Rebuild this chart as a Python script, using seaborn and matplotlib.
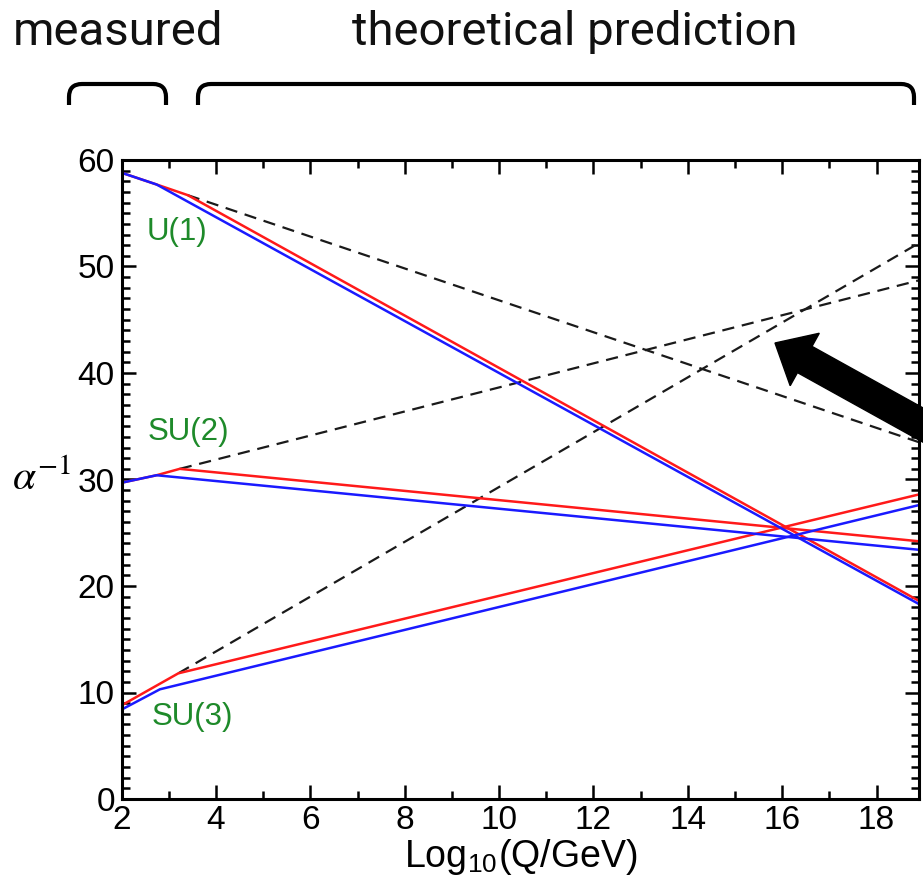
import numpy as np
import pandas as pd
import seaborn as sns
import matplotlib
matplotlib.use("Agg")
import matplotlib.pyplot as plt
from matplotlib.patches import FancyArrow, PathPatch
from matplotlib.path import Path
from matplotlib.ticker import MultipleLocator

# ---------------- data ----------------
# Standard Model running (blue)
u1_sm_x = [2.0, 2.74, 18.9]
u1_sm_y = [58.8, 57.7, 18.3]
su2_sm_x = [2.0, 2.74, 18.9]
su2_sm_y = [29.7, 30.4, 23.4]
su3_sm_x = [2.0, 2.81, 18.9]
su3_sm_y = [8.4, 10.3, 27.6]

# SUSY running (red)
u1_susy_x = [2.0, 2.74, 3.4, 18.9]
u1_susy_y = [58.8, 57.7, 56.7, 18.6]
su2_susy_x = [2.0, 2.74, 3.23, 18.9]
su2_susy_y = [29.7, 30.4, 31.0, 24.2]
su3_susy_x = [2.0, 3.2, 18.9]
su3_susy_y = [8.8, 11.8, 28.6]

# other theoretical prediction (dashed)
u1_alt_x = [3.4, 18.9]
u1_alt_y = [56.7, 33.5]
su2_alt_x = [3.23, 18.9]
su2_alt_y = [31.0, 48.7]
su3_alt_x = [3.2, 18.9]
su3_alt_y = [11.8, 52.2]

group_labels = ["U(1)", "SU(2)", "SU(3)"]
group_label_x = [3.17, 3.41, 3.5]
group_label_y = [53.2, 34.5, 7.7]

x_ticks = [2, 4, 6, 8, 10, 12, 14, 16, 18]
y_ticks = [0, 10, 20, 30, 40, 50, 60]

# ---------------- style ----------------
sns.set_theme(style="ticks")
plt.rcParams["font.family"] = ["Liberation Sans", "DejaVu Sans"]
plt.rcParams["mathtext.fontset"] = "stix"

W, H = 923, 888
fig = plt.figure(figsize=(W / 100, H / 100), dpi=100)
fig.patch.set_facecolor("white")
ax = fig.add_axes([121.7 / W, 1 - 799 / H, (919 - 121.7) / W, (799 - 160) / H])
ax.set_facecolor("white")

line_w = 1.8
dash_style = (0, (5.5, 3.5))

for xs, ys in [(u1_alt_x, u1_alt_y), (su2_alt_x, su2_alt_y), (su3_alt_x, su3_alt_y)]:
    sns.lineplot(x=xs, y=ys, ax=ax, color="#1a1a1a", lw=1.6, sort=False,
                 estimator=None, linestyle=dash_style)
for xs, ys in [(u1_susy_x, u1_susy_y), (su2_susy_x, su2_susy_y), (su3_susy_x, su3_susy_y)]:
    sns.lineplot(x=xs, y=ys, ax=ax, color="#ff1a1a", lw=line_w, sort=False, estimator=None)
for xs, ys in [(u1_sm_x, u1_sm_y), (su2_sm_x, su2_sm_y), (su3_sm_x, su3_sm_y)]:
    sns.lineplot(x=xs, y=ys, ax=ax, color="#1a1aff", lw=line_w, sort=False, estimator=None)

for lab, lx, ly in zip(group_labels, group_label_x, group_label_y):
    ax.text(lx, ly, lab, color="#1e8a2a", fontsize=22.5, ha="center", va="center")

ax.set_xlim(2, 18.9)
ax.set_ylim(0, 60)
ax.set_xticks(x_ticks)
ax.set_yticks(y_ticks)
ax.xaxis.set_minor_locator(MultipleLocator(1))
ax.yaxis.set_minor_locator(MultipleLocator(1))
ax.tick_params(which="both", direction="in", top=True, right=True, width=1.8,
               color="black", labelsize=24, labelcolor="black")
ax.tick_params(which="major", length=10)
ax.tick_params(which="minor", length=5.5)
ax.tick_params(axis="x", pad=4)
ax.tick_params(axis="y", pad=5)
for sp in ax.spines.values():
    sp.set_visible(True)
    sp.set_linewidth(2.2)
    sp.set_color("black")

ax.set_xlabel(r"Log$_{\mathregular{10}}$(Q/GeV)", fontsize=27, labelpad=1, color="black")
ax.set_ylabel(r"$\alpha^{-1}$", fontsize=30, rotation=0, color="black")
ax.yaxis.set_label_coords(-0.1, 0.47)
ax.grid(False)

# ---------------- annotations above the chart ----------------
fig.text(118 / W, 1 - 45 / H, "measured", family="Roboto", fontsize=34,
         ha="center", va="baseline", color="#111111")
fig.text(575 / W, 1 - 45 / H, "theoretical prediction", family="Roboto", fontsize=34,
         ha="center", va="baseline", color="#111111")


def bracket(x0, x1, ytop, ybot, r=13):
    # pixel coords -> inches
    def p(x, y):
        return (x / 100, (H - y) / 100)
    verts = [p(x0, ybot), p(x0, ytop + r), p(x0, ytop), p(x0 + r, ytop),
             p(x1 - r, ytop), p(x1, ytop), p(x1, ytop + r), p(x1, ybot)]
    codes = [Path.MOVETO, Path.LINETO, Path.CURVE3, Path.CURVE3,
             Path.LINETO, Path.CURVE3, Path.CURVE3, Path.LINETO]
    fig.patches.append(PathPatch(Path(verts, codes), transform=fig.dpi_scale_trans,
                                 fill=False, lw=3.0, ec="black", capstyle="butt"))


bracket(69, 166, 84, 105)
bracket(198, 914, 84, 105)

# big arrow (figure inches)
tail = (940 / 100, (H - 434.5) / 100)
tip = (775 / 100, (H - 343) / 100)
fig.patches.append(FancyArrow(tail[0], tail[1], tip[0] - tail[0], tip[1] - tail[1],
                              width=0.30, head_width=0.60, head_length=0.34,
                              length_includes_head=True, color="black",
                              transform=fig.dpi_scale_trans))

fig.savefig("out.png", dpi=100, facecolor="white")
